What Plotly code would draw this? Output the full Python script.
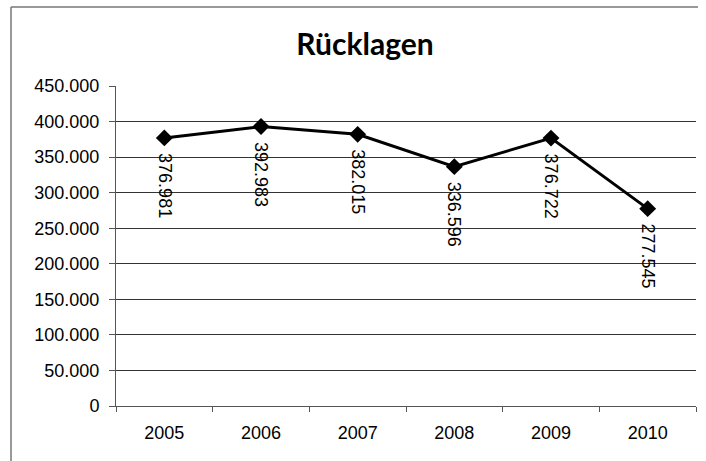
import plotly.graph_objects as go

# Rücklagen je Jahr (Euro)
jahre = ["2005", "2006", "2007", "2008", "2009", "2010"]
ruecklagen = [376981, 392983, 382015, 336596, 376722, 277545]
y_ticks = [0, 50000, 100000, 150000, 200000, 250000, 300000, 350000, 400000, 450000]

W, H = 706, 461
M_L, M_R, M_T, M_B = 116, 10, 86, 55
plot_w = W - M_L - M_R
plot_h = H - M_T - M_B

FONT = "Liberation Sans, Arial"


def de_format(v):
    return f"{v:,}".replace(",", ".")


fig = go.Figure()
fig.add_trace(go.Scatter(
    x=jahre,
    y=ruecklagen,
    mode="lines+markers",
    line=dict(color="black", width=3),
    marker=dict(symbol="diamond", size=13, color="black"),
    cliponaxis=False,
    showlegend=False,
))

# Datenbeschriftungen: senkrecht unter jedem Punkt
# (Kategorieachse: Position über den Kategorienindex)
for i, v in enumerate(ruecklagen):
    fig.add_annotation(
        x=i, y=v, xref="x", yref="y",
        text=de_format(v),
        textangle=90,
        showarrow=False,
        xanchor="center", yanchor="top",
        yshift=-13,
        font=dict(family=FONT, size=18, color="black"),
    )

# Rahmen des Diagrammbereichs (links und oben)
px_to_x = lambda px: (px - M_L) / plot_w
px_to_y = lambda py: (H - M_B - py) / plot_h
fig.add_shape(type="line", xref="paper", yref="paper",
              x0=px_to_x(11), x1=px_to_x(11), y0=px_to_y(470), y1=px_to_y(7),
              line=dict(color="#777777", width=1.5))
fig.add_shape(type="line", xref="paper", yref="paper",
              x0=px_to_x(11), x1=px_to_x(698), y0=px_to_y(7), y1=px_to_y(7),
              line=dict(color="#777777", width=1.5))

fig.update_layout(
    width=W, height=H,
    margin=dict(l=M_L, r=M_R, t=M_T, b=M_B),
    paper_bgcolor="white",
    plot_bgcolor="white",
    separators=",.",
    title=dict(
        text="<b>Rücklagen</b>",
        font=dict(family="Lato, Open Sans", size=30, color="black"),
        x=365 / W, xanchor="center", xref="container",
        y=1 - 44 / H, yanchor="middle", yref="container",
    ),
    xaxis=dict(
        type="category",
        tickson="boundaries",
        ticks="outside", ticklen=5, tickcolor="#555555", tickwidth=1,
        showline=True, linecolor="#555555", linewidth=1,
        showgrid=False,
        tickfont=dict(family=FONT, size=18, color="black"),
        ticklabelstandoff=10,
        range=[-0.5, 5.5],
    ),
    yaxis=dict(
        range=[0, 450000],
        tickvals=y_ticks,
        ticktext=[de_format(t) for t in y_ticks],
        ticks="outside", ticklen=6, tickcolor="#555555", tickwidth=1,
        showline=True, linecolor="#555555", linewidth=1,
        showgrid=True, gridcolor="#333333", gridwidth=1,
        zeroline=False,
        tickfont=dict(family=FONT, size=18, color="black"),
        ticklabelstandoff=6,
    ),
)

fig.write_html("out.html")
